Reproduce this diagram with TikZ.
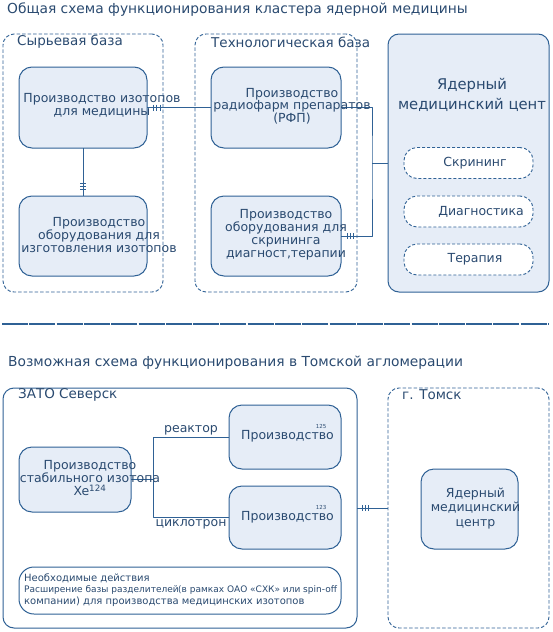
\documentclass[tikz,border=0pt]{standalone}
\usepackage{fontspec}
\setmainfont{DejaVu Sans}
\usepackage{xcolor}
\usepackage{tikz}
\usetikzlibrary{positioning}
\definecolor{lineb}{HTML}{2F6195}
\definecolor{textb}{HTML}{2A4A70}
\definecolor{fillb}{HTML}{E6EDF7}
\tikzset{
    grpd/.style = {rectangle, rounded corners=11, draw=lineb, dash pattern=on 3.5pt off 2pt, line width=0.9pt, inner sep=0, outer sep=0},
    grps/.style = {rectangle, rounded corners=11, draw=lineb, line width=1pt, inner sep=0, outer sep=0},
    itemb/.style = {rectangle, rounded corners=13, draw=lineb, fill=fillb, line width=1pt, inner sep=0, outer sep=0},
    pillb/.style = {rectangle, rounded corners=13, draw=lineb, fill=white, dash pattern=on 3pt off 2pt, line width=0.9pt, inner sep=0, outer sep=0, minimum width=129, minimum height=31},
    txt/.style = {text=textb, inner sep=0, align=center, font=\fontsize{12.5}{13}\selectfont},
    ttl/.style = {text=textb, inner sep=0, anchor=west, font=\fontsize{13.8}{15}\selectfont},
    lbl/.style = {text=textb, inner sep=0, anchor=west, font=\fontsize{13.5}{14}\selectfont},
    notet/.style = {text=textb, inner sep=0, anchor=west, font=\fontsize{10}{12}\selectfont},
    supt/.style = {text=textb, inner sep=0, font=\fontsize{5.5}{6}\selectfont},
}

\begin{document}
\begin{tikzpicture}[x=1pt, y=-1pt, line join=round]
\tikzset{
    conn/.style = {-, draw=lineb, line width=1pt},
    sepl/.style = {-, draw=lineb, line width=1.3pt, dash pattern=on 26pt off 1.3pt},
}
\useasboundingbox (0,0) rectangle (552,632);
% upper scheme
\node[ttl] at (7,10) (t1) {Общая схема функционирования кластера ядерной медицины};
\node[grpd, minimum width=160, minimum height=258] at (83,163) (syr) {};
\node[grpd, minimum width=162, minimum height=258] at (276,163) (tech) {};
\node[grps, fill=fillb, minimum width=161, minimum height=258] at (468.5,163) (ymc) {};
\node[lbl] at (17,42) (lsyr) {Сырьевая база};
\node[lbl] at (211,42) (ltech) {Технологическая база};
%
\node[itemb, minimum width=128, minimum height=81] at (83,107.5) (izot) {};
\node[itemb, minimum width=128, minimum height=80] at (83,236) (eqiz) {};
\node[itemb, minimum width=130, minimum height=81] at (276,107.5) (rfp) {};
\node[itemb, minimum width=130, minimum height=80] at (276,236) (eqsc) {};
\node[pillb] at (468.5,163) (scr) {};
\node[pillb] at (468.5,211.5) (diag) {};
\node[pillb] at (468.5,259.5) (ther) {};
%
\coordinate (jct) at (372,163);
\draw[conn] (izot.east) -- (rfp.west);
\draw[conn] (izot.south) -- (eqiz.north);
\draw[conn] (rfp.east) -| (jct) |- (eqsc.east);
\draw[conn] (jct) -- (ymc.west);
\foreach \d in {6,9.5,13} \draw[conn] ([xshift=\d]izot.east) ++(0,-3) -- ++(0,6);
\foreach \d in {7,10,13} \draw[conn] ([yshift=\d]eqiz.north) ++(-3,0) -- ++(6,0);
\foreach \d in {6,9,12} \draw[conn] ([xshift=\d]eqsc.east) ++(0,-3) -- ++(0,6);
%
\node[txt] at (102,105.5) (tizot) {Производство изотопов\\для медицины};
\node[txt] at (99,235) (teqiz) {Производство\\оборудования для\\изготовления изотопов};
\node[txt, font=\fontsize{12.5}{12.5}\selectfont] at (292,106) (trfp) {Производство\\радиофарм препаратов\\(РФП)};
\node[txt] at (286,234.5) (teqsc) {Производство\\оборудования для\\скрининга\\диагност,терапии};
\node[txt, font=\fontsize{14.8}{20}\selectfont] at (472,95) (tymc) {Ядерный\\медицинский цент};
\node[txt] at (475,163) (tscr) {Скрининг};
\node[txt] at (481,211.5) (tdiag) {Диагностика};
\node[txt] at (475,259.5) (tther) {Терапия};
%
\draw[sepl] (2,324) -- (549,324);
% lower scheme
\node[ttl] at (8,363) (t2) {Возможная схема функционирования в Томской агломерации};
\node[grps, minimum width=354, minimum height=240] at (180,508) (sev) {};
\node[grpd, minimum width=161, minimum height=240] at (468.5,508) (tom) {};
\node[lbl] at (18,395) (lsev) {ЗАТО Северск};
\node[lbl] at (402,395) (ltom) {г. Томск};
%
\node[itemb, minimum width=112, minimum height=65] at (75,479.5) (xe) {};
\node[itemb, minimum width=112, minimum height=64] at (285,437) (p125) {};
\node[itemb, minimum width=112, minimum height=63] at (285,517.5) (p123) {};
\node[grps, fill=white, rounded corners=15, minimum width=322, minimum height=47] at (180,590.5) (note) {};
\node[itemb, minimum width=97, minimum height=80] at (469.5,509) (ymc2) {};
%
\coordinate (br) at (153,479.5);
\draw[conn] (xe.east) -- (br);
\draw[conn] (br) |- node[txt, pos=0.75, above=1.5pt] (treak) {реактор} (p125.west);
\draw[conn] (br) |- node[txt, pos=0.75, below=1.5pt] (tcyc) {циклотрон} (p123.west);
\draw[conn] (sev.east) -- (tom.west);
\foreach \d in {5,8,11} \draw[conn] ([xshift=\d]sev.east) ++(0,-3) -- ++(0,6);
%
\node[txt] at (90,478) (txe) {Производство\\стабильного изотопа\\Xe\textsuperscript{124}};
\node[txt] at (287.5,436) (tp125) {Производство};
\node[supt] at (321,426) (s125) {125};
\node[txt] at (287.5,517) (tp123) {Производство};
\node[supt] at (321,507) (s123) {123};
\node[txt, font=\fontsize{12.5}{14.5}\selectfont] at (475.5,508.5) (tymc2) {Ядерный\\медицинский\\центр};
%
\node[notet] at (24,578) (nt1) {Необходимые действия};
\node[notet, font=\fontsize{9}{12}\selectfont] at (24,590) (nt2a) {Расширение базы разделителей};
\node[notet, font=\fontsize{9}{12}\selectfont] at (178,590) (nt2b) {(в рамках ОАО «СХК» или spin-off};
\node[notet] at (24,601.5) (nt3) {компании) для производства медицинских изотопов};
\end{tikzpicture}
\end{document}
